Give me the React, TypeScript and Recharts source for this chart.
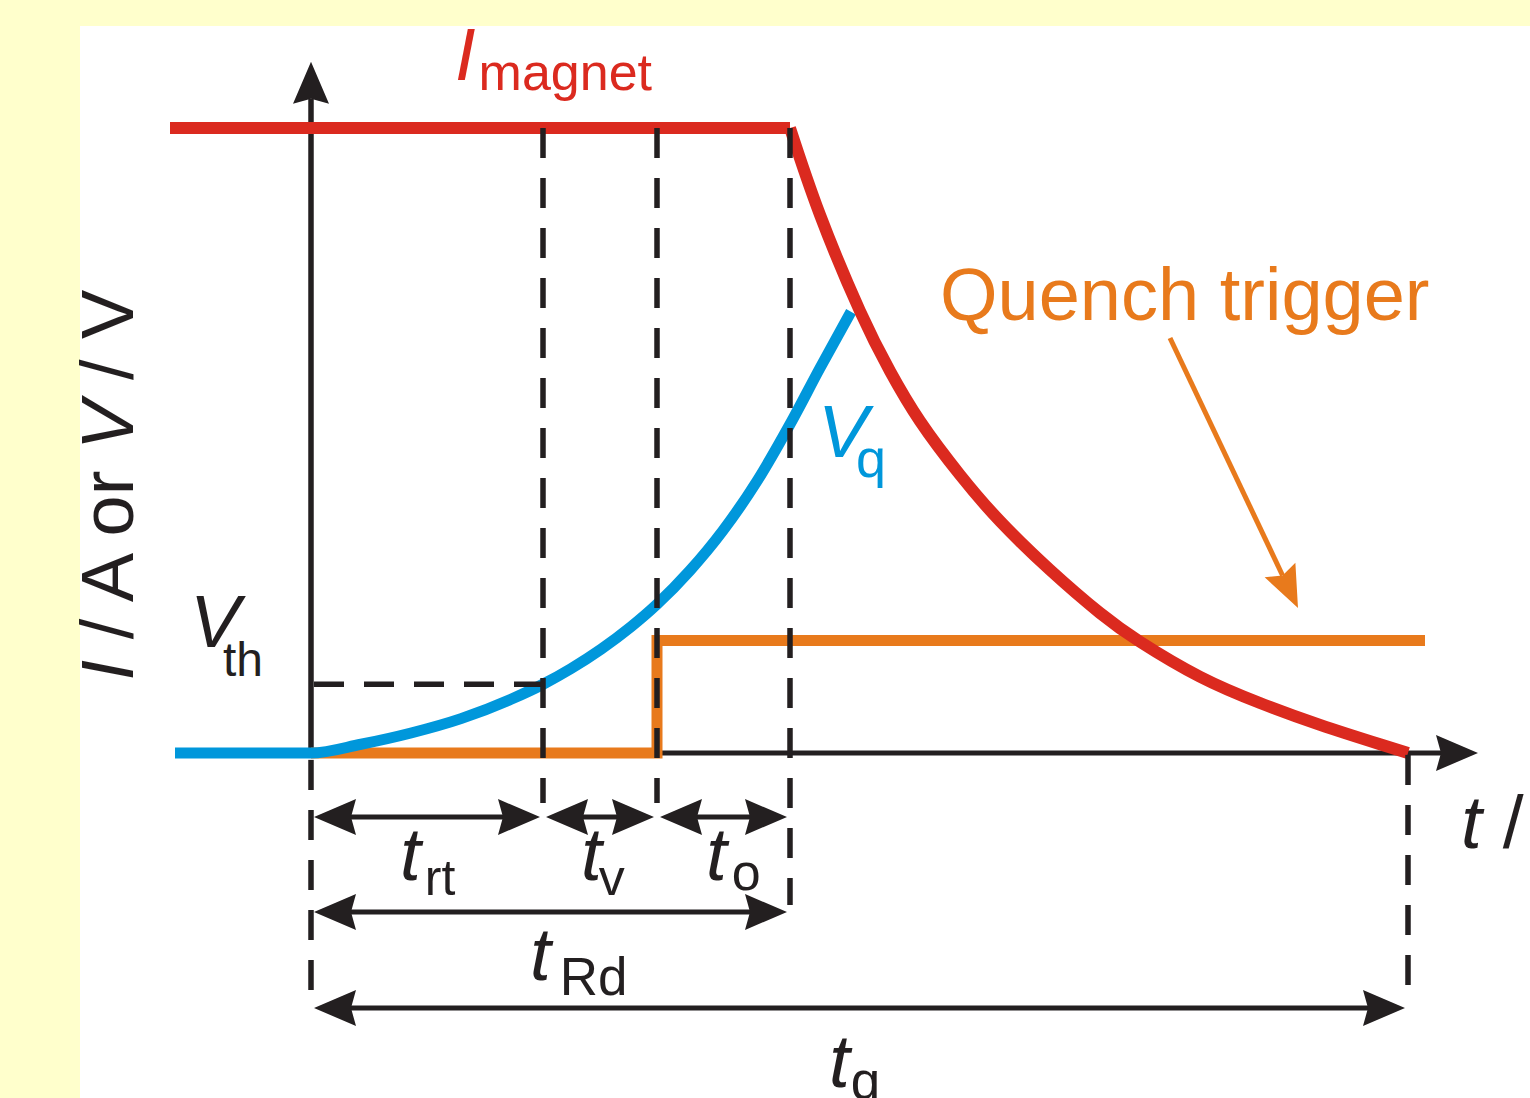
import React from 'react';
import { ComposedChart, Line, XAxis, YAxis, ReferenceLine, ReferenceDot } from 'recharts';

const W = 1530;
const H = 1098;

const RED = '#db2a1f';
const BLUE = '#0097db';
const ORANGE = '#e87a1c';
const INK = '#231f20';
const FONT = '"Liberation Sans", Arial, Helvetica, sans-serif';

// time in arbitrary units, levels in % of the nominal magnet current
const magnetFlatTime = [-14.1, 47.9];
const magnetFlatCurrent = [100, 100];
const magnetDecayTime = [47.9, 50.9, 54.9, 57.9, 60.9, 64.9, 68.9, 73.9, 78.9, 82.9, 88.9, 94.9, 100.9, 106.9, 109.7];
const magnetDecayCurrent = [100, 86.1, 70.7, 61.1, 53.1, 44.5, 37.1, 29.3, 22.4, 17.8, 12.2, 8.0, 4.5, 1.4, 0];
const vqTime = [-13.6, 0, 5, 10, 15, 20, 23.2, 26, 29, 32, 34.6, 37.9, 41.2, 44.6, 47.9, 50.9, 54];
const vqVoltage = [0, 0, 1.4, 3.2, 5.5, 8.6, 11, 13.5, 16.6, 20.2, 23.8, 29.2, 35.6, 43.5, 52.6, 61.6, 70.6];
const triggerTime = [0, 34.6, 34.6, 111.4];
const triggerLevel = [0, 0, 18, 18];

const thresholdVoltage = 11;
// quench start, end of t_rt, end of t_v, end of t_o (= t_Rd), end of t_q
const phaseTimes = [0, 23.2, 34.6, 47.9, 109.7];

const toRows = (ts: number[], vs: number[]) => ts.map((t, i) => ({ t, v: vs[i] }));

const magnetFlat = toRows(magnetFlatTime, magnetFlatCurrent);
const magnetDecay = toRows(magnetDecayTime, magnetDecayCurrent);
const vq = toRows(vqTime, vqVoltage);
const trigger = toRows(triggerTime, triggerLevel);

// line with notched arrow heads, drawn from the reference line end points
const arrowShape =
  (color: string, width: number, both: boolean, L = 42, Wd = 36, N = 5) =>
  (p: any) => {
    const { x1, y1, x2, y2 } = p;
    const dx = x2 - x1;
    const dy = y2 - y1;
    const len = Math.hypot(dx, dy) || 1;
    const ux = dx / len;
    const uy = dy / len;
    const head = (tx: number, ty: number, sx: number, sy: number) => {
      const bx = tx - L * sx;
      const by = ty - L * sy;
      const nx = (-sy * Wd) / 2;
      const ny = (sx * Wd) / 2;
      return `${tx},${ty} ${bx + nx},${by + ny} ${tx - (L - N) * sx},${ty - (L - N) * sy} ${bx - nx},${by - ny}`;
    };
    const trim = L - N;
    const sx1 = both ? x1 + ux * trim : x1;
    const sy1 = both ? y1 + uy * trim : y1;
    return (
      <g>
        <line x1={sx1} y1={sy1} x2={x2 - ux * trim} y2={y2 - uy * trim} stroke={color} strokeWidth={width} />
        <polygon points={head(x2, y2, ux, uy)} fill={color} />
        {both && <polygon points={head(x1, y1, -ux, -uy)} fill={color} />}
      </g>
    );
  };

// italic symbol with an upright subscript
const symbolLabel =
  (main: string, sub: string, color: string, size: number, subSize: number, dx: number, dy: number) =>
  (p: any) => (
    <text x={p.cx} y={p.cy} fill={color} fontFamily={FONT}>
      <tspan fontStyle="italic" fontSize={size}>{main}</tspan>
      <tspan fontSize={subSize} dx={dx} dy={dy}>{sub}</tspan>
    </text>
  );

const plainText =
  (text: string, color: string, size: number) =>
  (p: any) => (
    <text x={p.cx} y={p.cy} fill={color} fontFamily={FONT} fontSize={size}>
      {text}
    </text>
  );

const axisTitle = (p: any) => (
  <text
    x={p.cx}
    y={p.cy}
    transform={`rotate(-90 ${p.cx} ${p.cy})`}
    textAnchor="middle"
    fill={INK}
    fontFamily={FONT}
    fontSize={74}
  >
    <tspan fontStyle="italic">I</tspan>
    <tspan> / A or </tspan>
    <tspan fontStyle="italic">V</tspan>
    <tspan> / V</tspan>
  </text>
);

const timeTitle = (p: any) => (
  <text x={p.cx} y={p.cy} fill={INK} fontFamily={FONT} fontSize={75}>
    <tspan fontStyle="italic">t</tspan>
    <tspan> /</tspan>
  </text>
);

const dash = '30 20';
const gap = 0.3;

export default function App() {
  const spanRow1 = -10.24;
  const spanRow2 = -25.44;
  const spanRow3 = -40.8;
  const dimArrow = arrowShape(INK, 5, true);

  return (
    <div style={{ position: 'absolute', left: 0, top: 0, width: W, height: H, background: '#ffffcc', overflow: 'hidden' }}>
      <div style={{ position: 'absolute', left: 80, top: 26, right: 0, bottom: 0, background: '#ffffff' }} />
      <div style={{ position: 'absolute', left: 0, top: 0 }}>
        <ComposedChart width={W} height={H} margin={{ top: 0, right: 0, bottom: 0, left: 0 }}>
          <XAxis dataKey="t" type="number" domain={[-31.1, 121.9]} hide allowDataOverflow />
          <YAxis type="number" domain={[-55.2, 120.48]} hide allowDataOverflow />

          {/* axes */}
          <ReferenceLine segment={[{ x: 0, y: 0 }, { x: 0, y: 110.6 }]} shape={arrowShape(INK, 5.5, false)} />
          <ReferenceLine segment={[{ x: 0, y: 0 }, { x: 116.7, y: 0 }]} shape={arrowShape(INK, 5, false)} />

          <Line data={trigger} dataKey="v" type="linear" stroke={ORANGE} strokeWidth={11} dot={false} activeDot={false} isAnimationActive={false} strokeLinejoin="miter" />
          <Line data={vq} dataKey="v" type="monotone" stroke={BLUE} strokeWidth={11} dot={false} activeDot={false} isAnimationActive={false} />
          <Line data={magnetFlat} dataKey="v" type="linear" stroke={RED} strokeWidth={12} dot={false} activeDot={false} isAnimationActive={false} />
          <Line data={magnetDecay} dataKey="v" type="natural" stroke={RED} strokeWidth={12} dot={false} activeDot={false} isAnimationActive={false} />

          {/* phase boundaries */}
          <ReferenceLine segment={[{ x: phaseTimes[1], y: 100 }, { x: phaseTimes[1], y: -8 }]} stroke={INK} strokeWidth={5.5} strokeDasharray={dash} />
          <ReferenceLine segment={[{ x: phaseTimes[2], y: 100 }, { x: phaseTimes[2], y: -8 }]} stroke={INK} strokeWidth={5.5} strokeDasharray={dash} />
          <ReferenceLine segment={[{ x: phaseTimes[3], y: 100 }, { x: phaseTimes[3], y: -24.3 }]} stroke={INK} strokeWidth={5.5} strokeDasharray={dash} />
          <ReferenceLine segment={[{ x: phaseTimes[0], y: -1.1 }, { x: phaseTimes[0], y: -38.5 }]} stroke={INK} strokeWidth={5.5} strokeDasharray={dash} />
          <ReferenceLine segment={[{ x: phaseTimes[4], y: -0.3 }, { x: phaseTimes[4], y: -40 }]} stroke={INK} strokeWidth={5.5} strokeDasharray={dash} />
          <ReferenceLine segment={[{ x: phaseTimes[0] + gap, y: thresholdVoltage }, { x: phaseTimes[1], y: thresholdVoltage }]} stroke={INK} strokeWidth={5.5} strokeDasharray={dash} />

          {/* durations */}
          <ReferenceLine segment={[{ x: phaseTimes[0] + gap, y: spanRow1 }, { x: phaseTimes[1] - gap, y: spanRow1 }]} shape={dimArrow} />
          <ReferenceLine segment={[{ x: phaseTimes[1] + gap, y: spanRow1 }, { x: phaseTimes[2] - gap, y: spanRow1 }]} shape={dimArrow} />
          <ReferenceLine segment={[{ x: phaseTimes[2] + gap, y: spanRow1 }, { x: phaseTimes[3] - gap, y: spanRow1 }]} shape={dimArrow} />
          <ReferenceLine segment={[{ x: phaseTimes[0] + gap, y: spanRow2 }, { x: phaseTimes[3] - gap, y: spanRow2 }]} shape={dimArrow} />
          <ReferenceLine segment={[{ x: phaseTimes[0] + gap, y: spanRow3 }, { x: phaseTimes[4] - gap, y: spanRow3 }]} shape={dimArrow} />

          {/* pointer to the trigger signal */}
          <ReferenceLine segment={[{ x: 85.9, y: 66.4 }, { x: 98.7, y: 23.2 }]} shape={arrowShape(ORANGE, 5, false, 42, 34, 6)} />

          {/* labels */}
          <ReferenceDot x={14.4} y={107.7} r={0} shape={symbolLabel('I', 'magnet', RED, 74, 52, 3, 10)} />
          <ReferenceDot x={62.9} y={69.3} r={0} shape={plainText('Quench trigger', ORANGE, 74)} />
          <ReferenceDot x={50.7} y={47.3} r={0} shape={symbolLabel('V', 'q', BLUE, 75, 54, -12, 20)} />
          <ReferenceDot x={-12.1} y={16.96} r={0} shape={symbolLabel('V', 'th', INK, 75, 48, -17, 29)} />
          <ReferenceDot x={8.9} y={-20.32} r={0} shape={symbolLabel('t', 'rt', INK, 75, 50, 4, 15)} />
          <ReferenceDot x={27.0} y={-20.32} r={0} shape={symbolLabel('t', 'v', INK, 75, 52, -3, 15)} />
          <ReferenceDot x={39.5} y={-20.32} r={0} shape={symbolLabel('t', 'o', INK, 75, 52, 5, 10)} />
          <ReferenceDot x={21.9} y={-36.32} r={0} shape={symbolLabel('t', 'Rd', INK, 75, 53, 9, 15)} />
          <ReferenceDot x={51.8} y={-53.44} r={0} shape={symbolLabel('t', 'q', INK, 75, 53, 1, 12)} />
          <ReferenceDot x={115} y={-15.2} r={0} shape={timeTitle} />
          <ReferenceDot x={-17.8} y={42.88} r={0} shape={axisTitle} />
        </ComposedChart>
      </div>
    </div>
  );
}
